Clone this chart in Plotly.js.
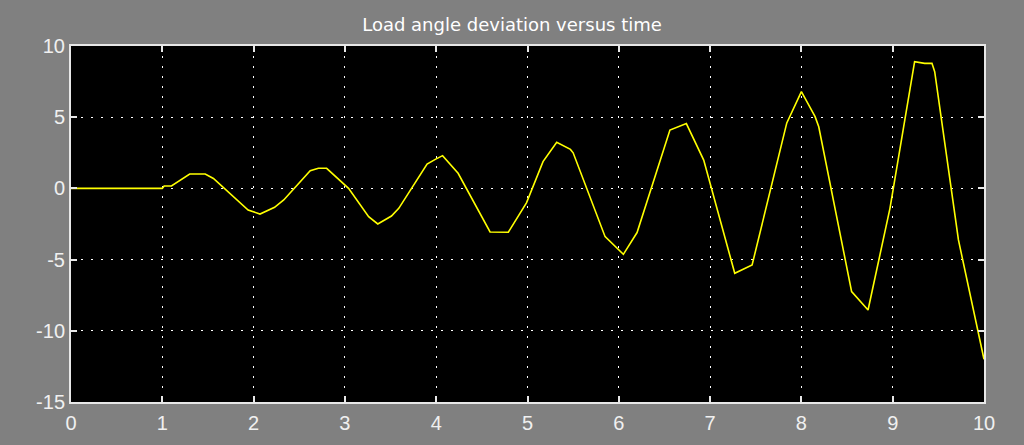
<!DOCTYPE html>
<html>
<head>
<meta charset="utf-8">
<script src="https://cdn.plot.ly/plotly-3.0.1.min.js"></script>
<style>
  html, body { margin: 0; padding: 0; background: #808080; }
  #chart { width: 1024px; height: 445px; }
</style>
</head>
<body>
<div id="chart"></div>
<script>
// Simulated load angle deviation (degrees) against time (s)
const time = [0, 1.0, 1.02, 1.10, 1.30, 1.47, 1.56, 1.94, 2.07, 2.23, 2.33, 2.62, 2.71, 2.80,
  3.04, 3.26, 3.36, 3.51, 3.59, 3.90, 3.99, 4.07, 4.24, 4.59, 4.79, 4.99, 5.17, 5.32, 5.47,
  5.50, 5.85, 6.05, 6.20, 6.56, 6.74, 6.93, 7.27, 7.46, 7.84, 8.00, 8.15, 8.19, 8.55, 8.73,
  8.97, 9.24, 9.35, 9.43, 9.46, 9.72, 10.0];
const deviation = [0, 0, 0.17, 0.17, 1.01, 1.01, 0.7, -1.52, -1.8, -1.33, -0.81, 1.24, 1.41, 1.41,
  0, -1.99, -2.5, -1.94, -1.4, 1.71, 2.04, 2.3, 1.06, -3.06, -3.08, -1.0, 1.88, 3.24, 2.74,
  2.5, -3.39, -4.63, -3.1, 4.1, 4.55, 1.99, -5.96, -5.38, 4.6, 6.79, 5.04, 4.33, -7.25, -8.54,
  -1.4, 8.9, 8.78, 8.78, 8.2, -3.62, -12.0];

const xTicks = [0, 1, 2, 3, 4, 5, 6, 7, 8, 9, 10];
const yTicks = [-15, -10, -5, 0, 5, 10];
const chartTitle = 'Load angle deviation versus time';

const axisCommon = {
  showgrid: true,
  gridcolor: '#ffffff',
  gridwidth: 1,
  griddash: '2px,8px',
  zeroline: false,
  showline: true,
  linecolor: '#e8e8e8',
  linewidth: 2,
  mirror: 'ticks',
  ticks: 'inside',
  ticklen: 6,
  tickwidth: 2,
  tickcolor: '#e8e8e8',
  tickfont: { family: 'Liberation Sans, Arial, sans-serif', size: 20, color: '#f0f0f0' },
  fixedrange: true
};

const trace = {
  x: time,
  y: deviation,
  type: 'scatter',
  mode: 'lines',
  line: { color: '#ffff00', width: 1.6 },
  hoverinfo: 'skip'
};

const layout = {
  width: 1024,
  height: 445,
  paper_bgcolor: '#808080',
  plot_bgcolor: '#000000',
  margin: { l: 71, r: 40, t: 46, b: 43 },
  showlegend: false,
  title: {
    text: chartTitle,
    font: { family: 'DejaVu Sans, Verdana, sans-serif', size: 18, color: '#ffffff' },
    x: 0.5, xanchor: 'center',
    y: 0.945, yanchor: 'middle'
  },
  xaxis: Object.assign({}, axisCommon, {
    range: [0, 10],
    tickmode: 'array',
    tickvals: xTicks,
    ticktext: xTicks.map(String),
    ticklabelstandoff: 2
  }),
  yaxis: Object.assign({}, axisCommon, {
    range: [-15, 10],
    tickmode: 'array',
    tickvals: yTicks,
    ticktext: yTicks.map(String),
    ticklabelstandoff: 0
  })
};

Plotly.newPlot('chart', [trace], layout, { displayModeBar: false, staticPlot: true });
</script>
</body>
</html>
